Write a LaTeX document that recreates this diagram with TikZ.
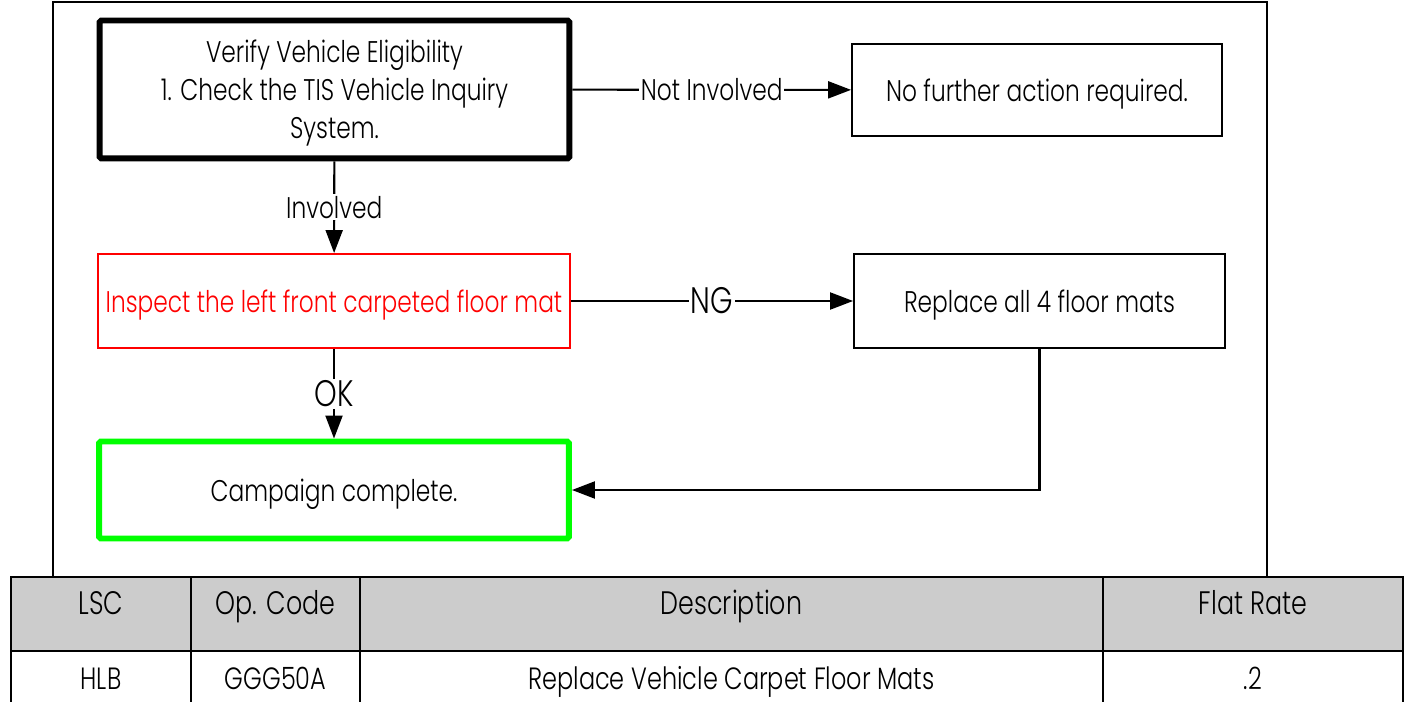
\documentclass[tikz,border=0pt]{standalone}
\usepackage{fontspec}
\setmainfont{Poppins}[UprightFont={* Light}, FakeStretch=0.78]
\usetikzlibrary{arrows.meta}
\tikzset{
  stepbox/.style={draw, line width=1.1pt, align=center, inner sep=0pt, text depth=0pt,
    font=\fontsize{17}{21.6}\selectfont},
  heavybox/.style={stepbox, line width=3.4pt, rounded corners=1pt},
  flow/.style={line width=1.2pt, -{Triangle[length=0.46cm,width=0.34cm]}},
  lbl/.style={fill=white, inner sep=1pt, font=\fontsize{17}{18}\selectfont},
  biglbl/.style={lbl, font=\fontsize{21}{22}\selectfont},
  cell/.style={draw, line width=1.1pt, inner sep=0pt, text height=0.45cm, text depth=0.1cm,
    font=\fontsize{17.5}{18}\selectfont},
  headcell/.style={cell, fill=black!20, text height=0.35cm, text depth=0.35cm,
    font=\fontsize{18.5}{20}\selectfont}
}
\begin{document}
\begin{tikzpicture}[x=0.02cm,y=-0.02cm]
    \useasboundingbox (0,0) rectangle (1405,702);
    % frame
    \draw[line width=1.1pt] (53,577) -- (53,2) -- (1267,2) -- (1267,577);
    \node[heavybox, minimum width=9.4cm, minimum height=2.76cm] (verify) at (334.5,89.5)
        {Verify Vehicle Eligibility\\1. Check the TIS Vehicle Inquiry\\System.};
    \node[stepbox, minimum width=7.4cm, minimum height=1.84cm] (noaction) at (1037,90)
        {No further action required.};
    \node[stepbox, draw=red, text=red, minimum width=9.44cm, minimum height=1.88cm] (inspect) at (334,301)
        {Inspect the left front carpeted floor mat};
    \node[stepbox, minimum width=7.42cm, minimum height=1.88cm] (replace) at (1039.5,301)
        {Replace all 4 floor mats};
    \node[heavybox, draw=green, minimum width=9.4cm, minimum height=1.94cm] (complete) at (334,490)
        {Campaign complete.};
    \draw[flow] (verify) -- node[lbl] {Not Involved} (noaction);
    \draw[flow] (verify) -- node[lbl] {Involved} (inspect);
    \draw[flow] (inspect) -- node[biglbl] {NG} (replace);
    \draw[flow] (inspect) -- node[biglbl] {OK} (complete);
    \draw[flow] (replace.south) |- (complete.east);
    % table
    \node[headcell, minimum width=3.6cm, minimum height=1.48cm] (lsc) at (101,614) {LSC};
    \node[headcell, minimum width=3.38cm, minimum height=1.48cm] (opcode) at (275.5,614) {Op. Code};
    \node[headcell, minimum width=14.86cm, minimum height=1.48cm] (desc) at (731.5,614) {Description};
    \node[headcell, minimum width=6cm, minimum height=1.48cm] (rate) at (1253,614) {Flat Rate};
    \node[cell, minimum width=3.6cm, minimum height=1.2cm] (hlb) at (101,681) {HLB};
    \node[cell, minimum width=3.38cm, minimum height=1.2cm] (ggg) at (275.5,681) {GGG50A};
    \node[cell, minimum width=14.86cm, minimum height=1.2cm] (repl) at (731.5,681) {Replace Vehicle Carpet Floor Mats};
    \node[cell, minimum width=6cm, minimum height=1.2cm] (fr) at (1253,681) {.2};
\end{tikzpicture}
\end{document}
